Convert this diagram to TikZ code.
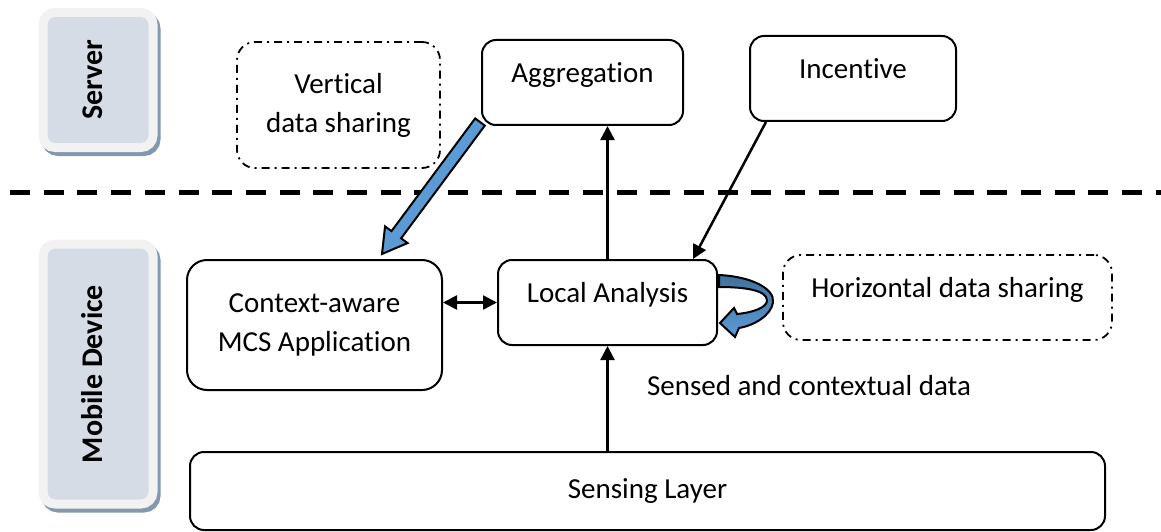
\documentclass[tikz,border=0pt]{standalone}
\usepackage{fontspec}
\setmainfont{Carlito}[RawFeature=-liga]
\usepackage{graphicx}
\usepackage{tikz}
\usetikzlibrary{arrows.meta,calc,positioning}
\definecolor{tagfill}{HTML}{D6DCE5}
\definecolor{tagframe}{HTML}{F2F2F2}
\definecolor{tagshadow}{HTML}{8497B0}
\definecolor{bigblue}{HTML}{5B9BD5}
\definecolor{darkblue}{HTML}{41719C}
\tikzset{
    %Define standard arrow tip
    >={Triangle[length=14pt,width=14pt]},
    %Define style for boxes
    block/.style={
           rectangle,
           rounded corners=14pt,
           draw=black, line width=2pt,
           inner sep=0pt,
           font=\fontsize{29}{39}\selectfont,
           align=center},
    oneline/.style={
           text height=12pt,
           text depth=12pt},
    share/.style={
           block,
           rounded corners=18pt,
           line width=1.8pt,
           dash pattern=on 8pt off 5pt on 2pt off 5pt},
    layer/.style={
           rectangle,
           rounded corners=12pt,
           fill=tagfill,
           draw=tagframe, line width=9pt,
           preaction={fill=tagshadow, draw=tagshadow, line width=9pt,
                      transform canvas={xshift=3pt,yshift=-4pt}},
           inner sep=0pt,
           font=\fontsize{30}{36}\selectfont\bfseries},
    % Define arrow style
    pil/.style={
           ->,
           line width=2.5pt},
    fat/.style={
           draw=black, line width=2pt, fill=bigblue},
    sep/.style={
           line width=5pt,
           dash pattern=on 20pt off 13.7pt}
}
\begin{document}
\begin{tikzpicture}[x=1pt,y=-1pt]
\useasboundingbox (0,0) rectangle (1161,532);
% layer tags
\node[layer, minimum width=110pt, minimum height=135pt] (srv) at (98,80)
    {\rotatebox{90}{\raisebox{-4pt}[0pt][0pt]{Server}}};
\node[layer, minimum width=110pt, minimum height=260pt] (mob) at (98,374)
    {\rotatebox{90}{\raisebox{-4pt}[0pt][0pt]{Mobile Device}}};
\draw[sep] (10,192) -- (1161,192);
% server side
\node[share, minimum width=203pt, minimum height=126pt] (vds) at (338.5,105) {Vertical\\data sharing};
\node[block, oneline, minimum width=201pt, minimum height=85pt] (agg) at (582.5,82.5) {Aggregation};
\node[block, oneline, minimum width=206pt, minimum height=85pt] (inc) at (853,78.5) {Incentive};
% device side
\node[block, rounded corners=20pt, minimum width=255pt, minimum height=130pt] (ctx) at (314.5,325) {Context-aware\\MCS Application};
\node[block, oneline, minimum width=219pt, minimum height=85pt] (la) at (607.5,302.5) {Local Analysis};
\node[share, oneline, minimum width=329pt, minimum height=85pt] (hds) at (947.5,297.5) {Horizontal data sharing};
\node[block, minimum width=915pt, minimum height=78pt] (sen) at (647.5,491) {Sensing Layer};
\node[font=\fontsize{29}{39}\selectfont, anchor=base] (scd) at (809,395) {Sensed and contextual data};
\draw[pil] (la.north) -- (la.north |- agg.south);
\draw[pil] (la.south |- sen.north) -- (la.south);
\draw[pil] ($(inc.south west)+(17,0)$) -- ($(la.north east)+(-25,0)$);
\draw[pil,<->] (ctx.east |- la.west) -- (la.west);
% vertical sharing arrow
\coordinate (vt) at ($(agg.south west)+(-1,-4)$);
\coordinate (vh) at ($(ctx.north)+(67.5,-5)$);
\coordinate (vb) at ($(vh)!24pt!(vt)$);
\draw[fat] ($(vt)!6pt!90:(vh)$) -- ($(vb)!6pt!90:(vh)$) -- ($(vb)!14pt!90:(vh)$) -- (vh)
    -- ($(vb)!14pt!-90:(vh)$) -- ($(vb)!6pt!-90:(vh)$) -- ($(vt)!6pt!-90:(vh)$) -- cycle;
% horizontal sharing arrow
\begin{scope}[shift={(la.east)}]
\draw[line width=2pt, top color=darkblue, bottom color=bigblue]
    (1,-27.5) .. controls (33,-26) and (57,-14) .. (55,0)
    .. controls (53,13) and (36,23) .. (21,25.5)
    -- (17,34.5) -- (2,20.5) -- (16,5.5) -- (19,11.5)
    .. controls (35,10) and (49,5) .. (49,-2)
    .. controls (49,-12) and (28,-15.5) .. (1,-15.5) -- cycle;
\end{scope}
\end{tikzpicture}
\end{document}
